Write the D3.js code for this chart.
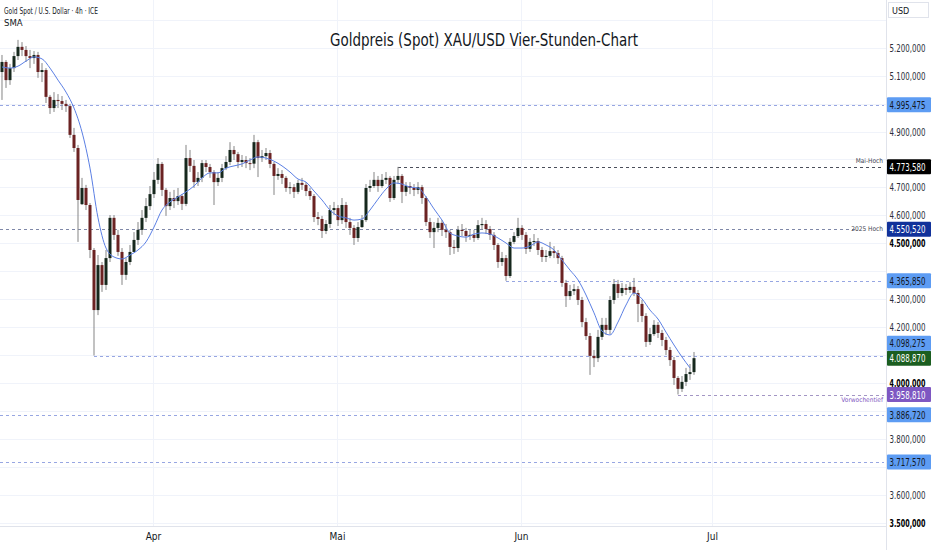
<!DOCTYPE html>
<html><head><meta charset="utf-8">
<script src="https://cdn.jsdelivr.net/npm/d3@7"></script>
<style>
html,body{margin:0;padding:0;background:#fff;}
svg{display:block;}
text{font-family:"Liberation Sans Narrow","Arial Narrow","DejaVu Sans Condensed",sans-serif;}
</style></head><body>
<svg id="chart" width="932" height="550"></svg>
<script>
// ---- data (4h gold candles) ----
const opens = [5113,5149,5084,5127,5170,5203,5192,5170,5163,5174,
5113,5120,5024,4984,5013,5009,4999,4991,4888,4841,
4640,4698,4637,4476,4261,4422,4351,4447,4591,4530,
4469,4387,4433,4469,4512,4548,4591,4633,4676,4727,
4784,4691,4633,4662,4651,4669,4641,4805,4777,4719,
4734,4787,4773,4755,4719,4734,4769,4791,4834,4819,
4791,4798,4787,4785,4862,4805,4812,4823,4784,4741,
4748,4734,4698,4701,4684,4716,4709,4687,4669,4594,
4587,4544,4569,4619,4626,4583,4637,4576,4555,4519,
4558,4583,4698,4705,4727,4705,4727,4734,4662,4727,
4741,4684,4705,4698,4691,4701,4662,4576,4540,4555,
4573,4548,4540,4487,4483,4548,4544,4526,4530,4519,
4565,4569,4551,4530,4494,4433,4447,4383,4505,4526,
4555,4530,4480,4505,4508,4476,4451,4455,4472,4465,
4447,4358,4311,4329,4336,4297,4218,4168,4097,4089,
4165,4208,4190,4297,4354,4322,4340,4333,4344,4322,
4283,4240,4147,4175,4208,4179,4154,4118,4082,4018,
3979,4004,4032,4039];
const highs = [5174,5156,5142,5185,5228,5220,5206,5192,5188,5185,
5145,5127,5031,5041,5034,5027,5013,4999,4913,4852,
4734,4709,4644,4483,4458,4433,4476,4601,4601,4548,
4483,4447,4494,4540,4576,4619,4662,4705,4755,4805,
4791,4698,4684,4691,4698,4676,4852,4834,4798,4755,
4798,4798,4784,4762,4755,4784,4812,4862,4848,4827,
4816,4812,4805,4888,4870,4834,4841,4834,4791,4769,
4762,4741,4719,4712,4727,4734,4719,4698,4676,4612,
4598,4583,4637,4648,4637,4662,4648,4591,4565,4576,
4601,4712,4727,4755,4741,4748,4755,4741,4741,4773.58,
4748,4719,4719,4712,4719,4709,4669,4591,4576,4591,
4583,4569,4548,4512,4562,4569,4555,4548,4548,4583,
4591,4583,4562,4540,4501,4469,4458,4519,4540,4591,
4565,4540,4519,4533,4519,4487,4476,4505,4490,4476,
4455,4369,4351,4354,4347,4308,4233,4179,4118,4190,
4233,4233,4311,4372,4369,4358,4354,4361,4376,4333,
4297,4250,4197,4225,4218,4190,4165,4129,4093,4025,
4025,4054,4068,4111];
const lows = [5013,5056,5067,5113,5156,5170,5149,5127,5142,5092,
5077,5002,4963,4970,4984,4977,4970,4877,4827,4505,
4637,4619,4447,4098.275,4243,4326,4333,4433,4512,4455,
4351,4369,4422,4483,4494,4530,4576,4619,4662,4712,
4669,4598,4619,4626,4637,4619,4633,4755,4698,4705,
4719,4755,4734,4637,4705,4719,4762,4780,4798,4769,
4773,4769,4762,4769,4737,4791,4798,4769,4673,4727,
4712,4684,4676,4662,4676,4691,4669,4655,4576,4565,
4519,4533,4555,4601,4562,4569,4555,4530,4494,4505,
4555,4576,4684,4698,4684,4698,4712,4648,4655,4712,
4644,4669,4676,4669,4676,4641,4562,4519,4483,4540,
4526,4519,4458,4462,4469,4526,4505,4512,4505,4512,
4548,4533,4512,4476,4412,4419,4365.85,4376,4497,4519,
4512,4462,4469,4490,4458,4433,4433,4447,4447,4426,
4344,4272,4297,4315,4279,4200,4154,4029,4057,4075,
4154,4172,4175,4283,4304,4311,4315,4322,4311,4218,
4218,4129,4136,4168,4161,4132,4100,4061,3993,3958.81,
3968,3989,4011,4029];
const closes = [5149,5084,5127,5170,5203,5192,5170,5163,5174,5113,
5120,5024,4984,5013,5009,4999,4991,4888,4841,4655,
4698,4637,4476,4261,4422,4351,4447,4591,4530,4469,
4387,4433,4469,4512,4548,4591,4633,4676,4727,4784,
4691,4633,4662,4651,4669,4641,4805,4777,4719,4734,
4787,4773,4755,4719,4734,4769,4791,4834,4819,4791,
4798,4787,4785,4862,4805,4812,4823,4784,4741,4748,
4734,4698,4701,4684,4716,4709,4687,4669,4594,4587,
4544,4569,4619,4626,4583,4637,4576,4555,4519,4558,
4583,4698,4705,4727,4705,4727,4734,4662,4727,4741,
4684,4705,4698,4691,4701,4662,4576,4540,4555,4573,
4548,4540,4487,4483,4548,4544,4526,4530,4519,4565,
4569,4551,4530,4494,4433,4447,4383,4505,4526,4555,
4530,4480,4505,4508,4476,4451,4455,4472,4465,4447,
4358,4311,4329,4336,4297,4218,4168,4097,4089,4165,
4208,4190,4297,4354,4322,4340,4333,4344,4322,4283,
4240,4147,4175,4208,4179,4154,4118,4082,4018,3979,
4004,4032,4039,4088.87];
// SMA read at every second candle (candle index = 2*k)
const smaValues = [5131,5127,5134,5152,5167,5160,5127,5084,5041,4984,
4898,4769,4591,4483,4451,4444,4458,4476,4505,4558,
4619,4648,4666,4684,4705,4734,4752,4752,4769,4777,
4784,4798,4809,4805,4794,4777,4755,4730,4719,4687,
4655,4619,4598,4591,4583,4587,4619,4658,4694,4716,
4712,4701,4698,4666,4623,4583,4537,4526,4522,4533,
4537,4533,4519,4501,4483,4483,4490,4505,4494,4476,
4440,4404,4369,4315,4251,4186,4172,4218,4279,4322,
4301,4261,4229,4182,4136,4093,4054];
const smaEvery = 2;
const monthLabels = ["Apr","Mai","Jun","Jul"];
const monthBarIndex = [37.75, 83.75, 129.75, 177.5];
const yTickValues = [5300,5200,5100,5000,4900,4800,4700,4600,4500,4400,4300,4200,4100,4000,3900,3800,3700,3600,3500];
const boldTicks = [4500,4000,3500];
const levelValues = [4995.475, 4773.58, 4550.52, 4365.85, 4098.275, 4088.87, 3958.81, 3886.72, 3717.57];
const levelFromBar = [0, 99, 0, 126, 23, null, 169, 0, 0];
const levelNotes = ["", "Mai-Hoch", "2025 Hoch", "", "", "", "Vorwochentief", "", ""];
const levelKinds = ["blue","black","navy","blue","blue","green","purple","blue","blue"];
const titleText = "Goldpreis (Spot) XAU/USD Vier-Stunden-Chart";
const headerText = "Gold Spot / U.S. Dollar · 4h · ICE";
const indicatorText = "SMA";
const currencyText = "USD";

// ---- styles ----
const W = 932, H = 550, plotR = 886, plotB = 526;
const kindStyle = {
  blue:   {bg:"#5d9cf3", fg:"#131722", line:"#97a6e2"},
  black:  {bg:"#000000", fg:"#ffffff", line:"#4a4e5a"},
  navy:   {bg:"#12329a", fg:"#ffffff", line:"#7f88a8"},
  green:  {bg:"#1b5e20", fg:"#ffffff", line:null},
  purple: {bg:"#7e57c2", fg:"#ffffff", line:"#a396c4"}
};
const upColor = "#16281d", downColor = "#6b2323", wickColor = "#858585";

const svg = d3.select("#chart");
const x = d3.scaleLinear().domain([-0.5, 221]).range([0, plotR]);
const y = d3.scaleLinear().domain([3500, 5200]).range([522.7, 47.7]);
const loc = d3.formatLocale({decimal:",", thousands:".", grouping:[3], currency:["",""]});
const fmt = loc.format(",.3f");

// squeeze a text horizontally (scale transform) so it spans exactly w pixels from x0
function fitText(sel, x0, w) {
  sel.each(function(){
    const t = d3.select(this);
    const nat = this.getComputedTextLength() || w;
    const sx = Math.min(1, w / nat);
    t.attr("x", 0).attr("transform", `translate(${x0},0) scale(${sx},1)`);
  });
}

svg.append("rect").attr("width",W).attr("height",H).attr("fill","#fff");

// grid
const grid = svg.append("g");
grid.selectAll("line.h").data(yTickValues).join("line")
  .attr("x1",0).attr("x2",plotR).attr("y1",d=>Math.round(y(d))+0.5).attr("y2",d=>Math.round(y(d))+0.5)
  .attr("stroke","#f0f3fa").attr("stroke-width",1);
grid.selectAll("line.v").data(monthBarIndex).join("line")
  .attr("x1",d=>Math.round(x(d))+0.5).attr("x2",d=>Math.round(x(d))+0.5).attr("y1",0).attr("y2",plotB)
  .attr("stroke","#f0f3fa").attr("stroke-width",1);

// clip
svg.append("clipPath").attr("id","plotclip").append("rect").attr("x",0).attr("y",0).attr("width",plotR).attr("height",plotB);
const plot = svg.append("g").attr("clip-path","url(#plotclip)");

// level lines
const levels = levelValues.map((v,i)=>({v, from:levelFromBar[i], note:levelNotes[i], kind:levelKinds[i]}));
plot.selectAll("line.lvl").data(levels.filter(d=>d.from!==null)).join("line")
  .attr("x1",d=>d.from===0?0:x(d.from))
  .attr("x2",d=>d.note==="2025 Hoch"?855:plotR-2)
  .attr("y1",d=>Math.round(y(d.v))+0.5).attr("y2",d=>Math.round(y(d.v))+0.5)
  .attr("stroke",d=>kindStyle[d.kind].line).attr("stroke-width",1).attr("stroke-dasharray","3,3");

// candles
const candles = closes.map((c,i)=>({i, o:opens[i], h:highs[i], l:lows[i], c}));
const cg = plot.append("g");
cg.selectAll("line.wick").data(candles).join("line")
  .attr("x1",d=>x(d.i)).attr("x2",d=>x(d.i))
  .attr("y1",d=>y(d.h)).attr("y2",d=>y(d.l))
  .attr("stroke",wickColor).attr("stroke-width",1);
const bw = (x(1)-x(0))*0.75;
cg.selectAll("rect.body").data(candles).join("rect")
  .attr("x",d=>x(d.i)-bw/2).attr("width",bw)
  .attr("y",d=>y(Math.max(d.o,d.c)))
  .attr("height",d=>Math.max(1,Math.abs(y(d.o)-y(d.c))))
  .attr("fill",d=>d.c>=d.o?upColor:downColor);

// SMA
const smaPts = smaValues.map((v,k)=>[k*smaEvery, v]);
plot.append("path").datum(smaPts)
  .attr("d", d3.line().x(d=>x(d[0])).y(d=>y(d[1])).curve(d3.curveMonotoneX))
  .attr("fill","none").attr("stroke","#5b7fe4").attr("stroke-width",1);

// borders
svg.append("line").attr("x1",0).attr("x2",plotR).attr("y1",plotB+0.5).attr("y2",plotB+0.5).attr("stroke","#e0e3eb");
svg.append("line").attr("x1",plotR+0.5).attr("x2",plotR+0.5).attr("y1",0).attr("y2",H).attr("stroke","#e0e3eb");

// level labels with overlap avoidance (computed first so covered ticks can be hidden)
const lbl = levels.map(d=>({...d, yy:y(d.v)})).sort((a,b)=>b.yy-a.yy);
const bh = 15;
for (let k=1;k<lbl.length;k++){ if (lbl[k].yy > lbl[k-1].yy - bh) lbl[k].yy = lbl[k-1].yy - bh; }
const covered = v => lbl.some(l => Math.abs(y(v)-l.yy) < 10.5) || y(v) < 24;

// y axis
const yAxis = svg.append("g").attr("transform",`translate(${plotR},0)`)
  .call(d3.axisRight(y).tickValues(yTickValues.filter(v=>!covered(v))).tickFormat(fmt).tickSize(0).tickPadding(3));
yAxis.select(".domain").remove();
yAxis.selectAll("text")
  .attr("font-size",11).attr("fill",d=>boldTicks.includes(d)?"#000":"#2a2e39")
  .attr("font-weight",d=>boldTicks.includes(d)?700:400);
fitText(yAxis.selectAll("text"), 3.5, 36);

// x axis
const xAxis = svg.append("g").attr("transform",`translate(0,${plotB})`)
  .call(d3.axisBottom(x).tickValues(monthBarIndex).tickFormat((d,i)=>monthLabels[i]).tickSize(0).tickPadding(7));
xAxis.select(".domain").remove();
xAxis.selectAll("text").attr("font-size",10).attr("fill","#131722");

const lg = svg.append("g");
lg.selectAll("rect").data(lbl).join("rect")
  .attr("x",plotR+1).attr("width",44).attr("y",d=>d.yy-bh/2).attr("height",bh)
  .attr("fill",d=>kindStyle[d.kind].bg).attr("rx",1);
const lblText = lg.selectAll("g.lt").data(lbl).join("g").attr("transform",d=>`translate(0,${d.yy+4})`)
  .append("text").attr("font-size",11)
  .attr("fill",d=>kindStyle[d.kind].fg).text(d=>fmt(d.v));
fitText(lblText, plotR+3.5, 36);

// level notes
const noteY = {"Mai-Hoch":-4, "2025 Hoch":2, "Vorwochentief":7};
svg.selectAll("text.note").data(levels.filter(d=>d.note)).join("text")
  .attr("x",883).attr("y",d=>y(d.v)+noteY[d.note]).attr("text-anchor","end")
  .attr("font-size",6.5).attr("fill",d=>d.kind==="purple"?"#7e57c2":"#434651").text(d=>d.note);

// USD header box
svg.append("rect").attr("x",plotR+2.5).attr("y",2.5).attr("width",40).attr("height",15).attr("fill","#fff").attr("stroke","#e0e3eb");
svg.append("text").attr("x",plotR+6).attr("y",14).attr("font-size",9).attr("fill","#131722").text(currencyText);

// header texts
const hdr = svg.append("g").attr("transform","translate(0,14)").append("text").attr("font-size",9.5).attr("fill","#131722").text(headerText);
fitText(hdr, 4, 94);
svg.append("text").attr("x",4).attr("y",26).attr("font-size",9.5).attr("fill","#131722").text(indicatorText);

// title
svg.append("text").attr("x",484).attr("y",46).attr("text-anchor","middle").attr("font-size",18)
  .attr("fill","#131722").attr("textLength",308).attr("lengthAdjust","spacingAndGlyphs").text(titleText);
</script>
</body></html>
